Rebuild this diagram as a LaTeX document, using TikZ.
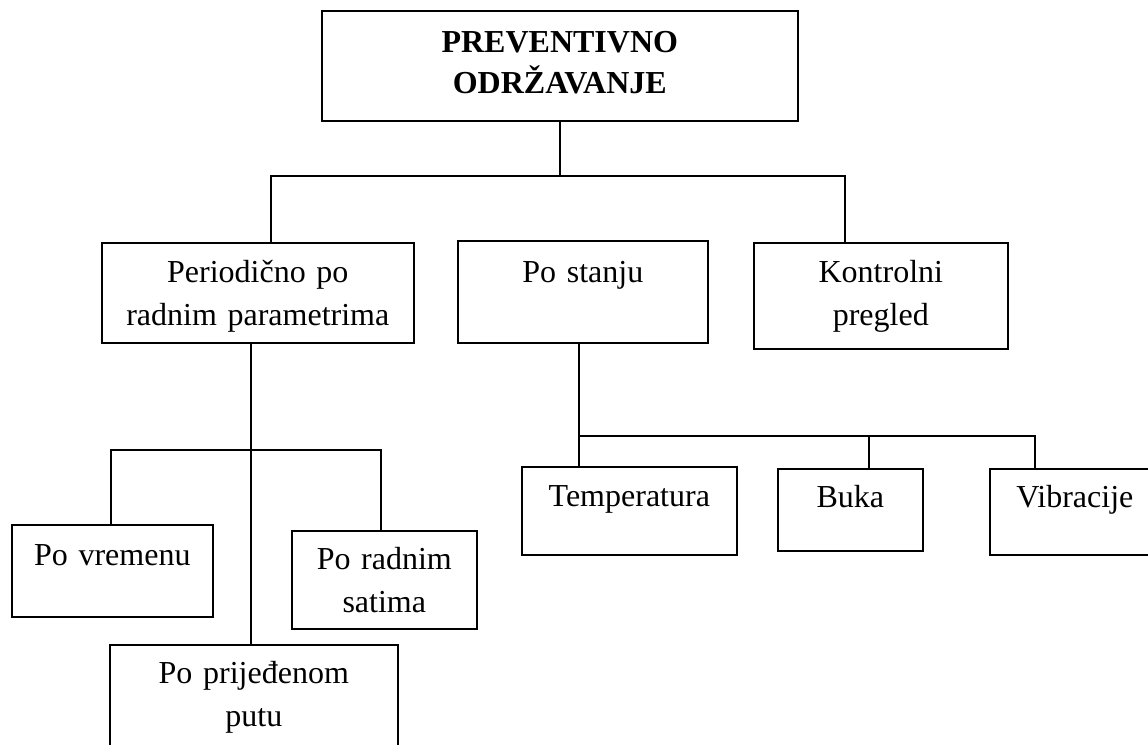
\documentclass[tikz,border=0pt]{standalone}
\usepackage{fontspec}
\setmainfont{Liberation Serif}
\begin{document}
\begin{tikzpicture}[x=0.375pt,y=-0.375pt]

	\tikzset{blok/.style={draw, line width=0.6pt, rectangle, inner sep=0pt, anchor=north west, align=center, font=\fontsize{12}{16.125}\selectfont}}
	\tikzset{veza/.style={line width=0.6pt}}

	\clip (0,0) rectangle (1148,745);

	\node[blok, text width=178.5pt, text height=15.75pt, text depth=25.5pt, font=\fontsize{12}{15.375}\selectfont\bfseries] (top) at (321,10) {PREVENTIVNO\\ODRŽAVANJE};

	\node[blok, text width=117pt, text height=15pt, text depth=22.5pt] (period) at (101,242) {Periodično po\\radnim parametrima};
	\node[blok, text width=93.75pt, text height=15.75pt, text depth=22.5pt] (stanje) at (457,240) {Po stanju};
	\node[blok, text width=95.25pt, text height=15pt, text depth=24.75pt] (kontrola) at (753,242) {Kontrolni\\pregled};

	\node[blok, text width=75.375pt, text height=15.375pt, text depth=19.125pt] (vreme) at (11,524) {Po vremenu};
	\node[blok, text width=69.375pt, text height=14.625pt, text depth=22.125pt] (sati) at (291,530) {Po radnim\\satima};
	\node[blok, text width=108pt, text height=14.625pt, text depth=40pt] (put) at (109,644) {Po prijeđenom\\putu};

	\node[blok, text width=80.625pt, text height=15pt, text depth=18pt] (temp) at (521,466) {Temperatura};
	\node[blok, text width=54.375pt, text height=14.625pt, text depth=16.125pt] (buka) at (777,468) {Buka};
	\node[blok, text width=63.75pt, text height=14.625pt, text depth=17.625pt] (vib) at (989,468) {Vibracije};

	% prvi nivo
	\coordinate (b1l) at (271,176);
	\coordinate (b1r) at (845,176);
	\draw[veza] (top.south) -- (top.south |- b1l);
	\draw[veza] (period.north -| b1l) -- (b1l) -- (b1r) -- (kontrola.north -| b1r);

	% periodicno
	\coordinate (b2) at (251,450);
	\coordinate (b2l) at (111,450);
	\coordinate (b2r) at (381,450);
	\draw[veza] (period.south -| b2) -- (put.north -| b2);
	\draw[veza] (vreme.north -| b2l) -- (b2l) -- (b2r) -- (sati.north -| b2r);

	% po stanju
	\coordinate (b3l) at (579,436);
	\coordinate (b3m) at (869,436);
	\coordinate (b3r) at (1035,436);
	\draw[veza] (stanje.south -| b3l) -- (temp.north -| b3l);
	\draw[veza] (b3l) -- (b3r) -- (vib.north -| b3r);
	\draw[veza] (b3m) -- (buka.north -| b3m);

\end{tikzpicture}
\end{document}
